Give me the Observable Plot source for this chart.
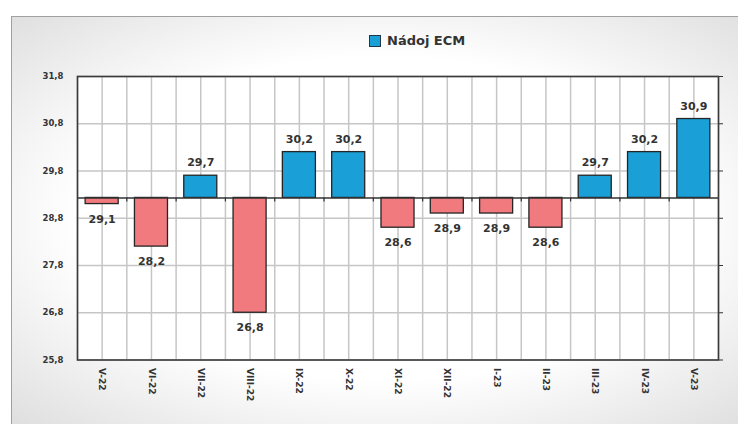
<!DOCTYPE html>
<html><head><meta charset="utf-8">
<script src="https://cdn.jsdelivr.net/npm/d3@7"></script>
<script src="https://cdn.jsdelivr.net/npm/@observablehq/plot@0.6"></script>
<style>
html,body{margin:0;padding:0;background:#fff;}
#wrap{position:relative;width:738px;height:424px;overflow:hidden;}
#panel{position:absolute;left:11px;top:16px;width:740px;height:420px;border-left:1.5px solid #a0a0a0;border-top:1.5px solid #a0a0a0;background:radial-gradient(ellipse 75% 70% at 50% 48%, #ffffff 55%, #dcdcdc 100%);}
#legend{position:absolute;left:369px;top:33px;font:bold 13px "DejaVu Sans";color:#333;display:flex;align-items:center;}
#legend .sw{display:inline-block;width:10px;height:10px;background:#1a9fd6;border:1px solid #1e3a4a;margin-right:6px;}
#chart{position:absolute;left:0;top:0;}
#chart svg{background:transparent;}
</style></head><body>
<div id="wrap"><div id="panel"></div><div id="legend"><span class="sw"></span>Nádoj ECM</div><div id="chart"></div></div>
<script>
const months = ["V-22","VI-22","VII-22","VIII-22","IX-22","X-22","XI-22","XII-22","I-23","II-23","III-23","IV-23","V-23"];
const values = [29.1, 28.2, 29.7, 26.8, 30.2, 30.2, 28.6, 28.9, 28.9, 28.6, 29.7, 30.2, 30.9];
const baseline = 29.23;
const yTicks = [25.8, 26.8, 27.8, 28.8, 29.8, 30.8, 31.8];
const blue = "#1a9fd6";
const pink = "#f07a7e";

const idx = d3.range(months.length);
const data = idx.map(i => ({i, m: months[i], v: values[i]}));
const grid = d3.range(-0.5, months.length, 0.5);
const bounds = d3.range(0.5, months.length - 0.5, 1);
const fmt = d => d3.format(".1f")(d).replace(".", ",");
const up = data.filter(d => d.v >= baseline);
const down = data.filter(d => d.v < baseline);

const chart = Plot.plot({
  width: 738, height: 424,
  marginLeft: 77, marginRight: 20, marginTop: 76, marginBottom: 64.5,
  style: {background: "transparent", fontFamily: "DejaVu Sans", overflow: "visible"},
  x: {domain: [-0.5, months.length - 0.5], label: null},
  y: {domain: [25.8, 31.8], label: null},
  marks: [
    Plot.frame({fill: "white"}),
    Plot.ruleX(grid, {x: d => d, stroke: "#c6c6c6", strokeWidth: 1.5}),
    Plot.ruleY(yTicks, {y: d => d, stroke: "#c6c6c6", strokeWidth: 1.5}),
    Plot.rectY(up, {x1: d => d.i - 0.335, x2: d => d.i + 0.335, y1: () => baseline, y2: "v", fill: blue, stroke: "#252525", strokeWidth: 1.3}),
    Plot.rectY(down, {x1: d => d.i - 0.335, x2: d => d.i + 0.335, y1: () => baseline, y2: "v", fill: pink, stroke: "#252525", strokeWidth: 1.3}),
    Plot.ruleY([baseline], {y: d => d, stroke: "#333", strokeWidth: 1.6}),
    Plot.ruleX(bounds, {x: d => d, y1: () => baseline, y2: () => baseline, insetBottom: -4, stroke: "#333", strokeWidth: 1.2}),
    Plot.text(up, {x: "i", y: "v", text: d => fmt(d.v), dy: -13, fill: "#333", fontWeight: "bold", fontSize: 11}),
    Plot.text(down, {x: "i", y: "v", text: d => fmt(d.v), dy: 15, fill: "#333", fontWeight: "bold", fontSize: 11}),
    Plot.axisY({ticks: yTicks, tickFormat: fmt, tickSize: 0, tickPadding: 14, fontSize: 8.5, fontWeight: "bold", fill: "#333", label: null}),
    Plot.axisY({anchor: "right", ticks: yTicks, tickFormat: () => "", tickSize: 4, stroke: "#333", label: null}),
    Plot.axisX({ticks: idx, tickFormat: i => months[i], tickRotate: 90, tickSize: 0, tickPadding: 8, fontSize: 9, fontWeight: "bold", fill: "#333", label: null}),
    Plot.frame({stroke: "#3a3a3a", strokeWidth: 1.6})
  ]
});
document.getElementById("chart").appendChild(chart);
</script>
</body></html>
